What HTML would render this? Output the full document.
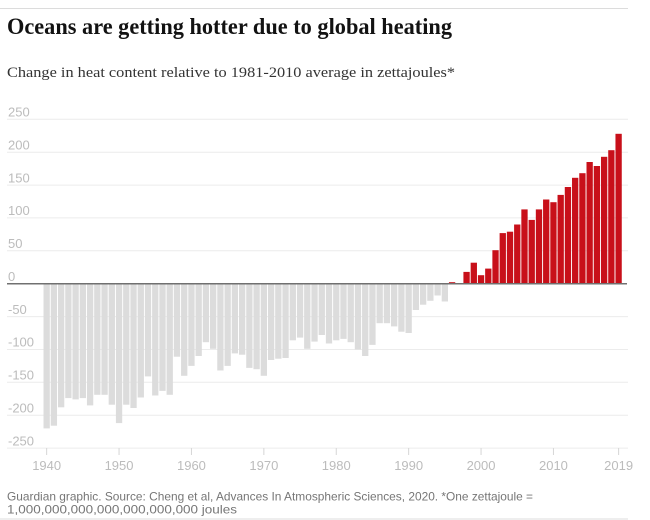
<!DOCTYPE html>
<html><head><meta charset="utf-8"><style>
html,body{margin:0;padding:0;background:#fff;}
svg{display:block;}
</style></head><body>
<svg width="650" height="520" viewBox="0 0 650 520" xmlns="http://www.w3.org/2000/svg">
<rect width="650" height="520" fill="#fff"/>
<line x1="0" y1="8.5" x2="628" y2="8.5" stroke="#dcdcdc" stroke-width="1"/>
<text x="7" y="34" font-family="Liberation Serif, serif" font-weight="bold" font-size="23" fill="#121212" textLength="445" lengthAdjust="spacingAndGlyphs">Oceans are getting hotter due to global heating</text>
<text x="7" y="77" font-family="Liberation Serif, serif" font-size="15" fill="#333" textLength="448" lengthAdjust="spacingAndGlyphs">Change in heat content relative to 1981-2010 average in zettajoules*</text>
<g stroke="#ececec" stroke-width="1">
<line x1="7" y1="119.3" x2="628" y2="119.3"/>
<line x1="7" y1="152.2" x2="628" y2="152.2"/>
<line x1="7" y1="185.1" x2="628" y2="185.1"/>
<line x1="7" y1="217.9" x2="628" y2="217.9"/>
<line x1="7" y1="250.8" x2="628" y2="250.8"/>
<line x1="7" y1="316.6" x2="628" y2="316.6"/>
<line x1="7" y1="349.5" x2="628" y2="349.5"/>
<line x1="7" y1="382.3" x2="628" y2="382.3"/>
<line x1="7" y1="415.2" x2="628" y2="415.2"/>
<line x1="7" y1="448.1" x2="628" y2="448.1"/>
</g>
<g font-family="Liberation Sans, sans-serif" font-size="13" fill="#bcbcbc">
<text x="8" y="116.5">250</text>
<text x="8" y="149.4">200</text>
<text x="8" y="182.3">150</text>
<text x="8" y="215.1">100</text>
<text x="8" y="248">50</text>
<text x="8" y="280.9">0</text>
<text x="8" y="313.8">-50</text>
<text x="8" y="346.7">-100</text>
<text x="8" y="379.5">-150</text>
<text x="8" y="412.4">-200</text>
<text x="8" y="445.3">-250</text>
</g>
<g fill="#dcdcdc">
<rect x="43.50" y="283.7" width="6.3" height="144.7"/>
<rect x="50.74" y="283.7" width="6.3" height="142.0"/>
<rect x="57.98" y="283.7" width="6.3" height="123.6"/>
<rect x="65.22" y="283.7" width="6.3" height="114.4"/>
<rect x="72.46" y="283.7" width="6.3" height="115.7"/>
<rect x="79.70" y="283.7" width="6.3" height="114.4"/>
<rect x="86.94" y="283.7" width="6.3" height="121.7"/>
<rect x="94.18" y="283.7" width="6.3" height="111.1"/>
<rect x="101.42" y="283.7" width="6.3" height="111.1"/>
<rect x="108.66" y="283.7" width="6.3" height="121.0"/>
<rect x="115.90" y="283.7" width="6.3" height="139.4"/>
<rect x="123.14" y="283.7" width="6.3" height="121.0"/>
<rect x="130.38" y="283.7" width="6.3" height="124.3"/>
<rect x="137.62" y="283.7" width="6.3" height="113.8"/>
<rect x="144.86" y="283.7" width="6.3" height="92.7"/>
<rect x="152.10" y="283.7" width="6.3" height="111.8"/>
<rect x="159.34" y="283.7" width="6.3" height="107.2"/>
<rect x="166.58" y="283.7" width="6.3" height="111.1"/>
<rect x="173.82" y="283.7" width="6.3" height="73.0"/>
<rect x="181.06" y="283.7" width="6.3" height="92.1"/>
<rect x="188.30" y="283.7" width="6.3" height="82.2"/>
<rect x="195.54" y="283.7" width="6.3" height="72.3"/>
<rect x="202.78" y="283.7" width="6.3" height="58.5"/>
<rect x="210.02" y="283.7" width="6.3" height="65.1"/>
<rect x="217.26" y="283.7" width="6.3" height="86.8"/>
<rect x="224.50" y="283.7" width="6.3" height="82.2"/>
<rect x="231.74" y="283.7" width="6.3" height="69.7"/>
<rect x="238.98" y="283.7" width="6.3" height="71.0"/>
<rect x="246.22" y="283.7" width="6.3" height="84.2"/>
<rect x="253.46" y="283.7" width="6.3" height="85.5"/>
<rect x="260.70" y="283.7" width="6.3" height="92.1"/>
<rect x="267.94" y="283.7" width="6.3" height="76.3"/>
<rect x="275.18" y="283.7" width="6.3" height="75.0"/>
<rect x="282.42" y="283.7" width="6.3" height="74.3"/>
<rect x="289.66" y="283.7" width="6.3" height="56.6"/>
<rect x="296.90" y="283.7" width="6.3" height="53.9"/>
<rect x="304.14" y="283.7" width="6.3" height="65.1"/>
<rect x="311.38" y="283.7" width="6.3" height="57.9"/>
<rect x="318.62" y="283.7" width="6.3" height="51.3"/>
<rect x="325.86" y="283.7" width="6.3" height="59.8"/>
<rect x="333.10" y="283.7" width="6.3" height="56.6"/>
<rect x="340.34" y="283.7" width="6.3" height="55.2"/>
<rect x="347.58" y="283.7" width="6.3" height="58.5"/>
<rect x="354.82" y="283.7" width="6.3" height="65.8"/>
<rect x="362.06" y="283.7" width="6.3" height="72.3"/>
<rect x="369.30" y="283.7" width="6.3" height="61.2"/>
<rect x="376.54" y="283.7" width="6.3" height="39.5"/>
<rect x="383.78" y="283.7" width="6.3" height="39.5"/>
<rect x="391.02" y="283.7" width="6.3" height="42.7"/>
<rect x="398.26" y="283.7" width="6.3" height="48.0"/>
<rect x="405.50" y="283.7" width="6.3" height="49.3"/>
<rect x="412.74" y="283.7" width="6.3" height="26.3"/>
<rect x="419.98" y="283.7" width="6.3" height="21.0"/>
<rect x="427.22" y="283.7" width="6.3" height="17.1"/>
<rect x="434.46" y="283.7" width="6.3" height="11.8"/>
<rect x="441.70" y="283.7" width="6.3" height="17.8"/>
</g>
<g fill="#c8101a">
<rect x="448.94" y="282.2" width="6.3" height="1.5"/>
<rect x="463.42" y="271.9" width="6.3" height="11.8"/>
<rect x="470.66" y="262.7" width="6.3" height="21.0"/>
<rect x="477.90" y="275.2" width="6.3" height="8.5"/>
<rect x="485.14" y="268.6" width="6.3" height="15.1"/>
<rect x="492.38" y="250.2" width="6.3" height="33.5"/>
<rect x="499.62" y="233.1" width="6.3" height="50.6"/>
<rect x="506.86" y="231.7" width="6.3" height="52.0"/>
<rect x="514.10" y="224.5" width="6.3" height="59.2"/>
<rect x="521.34" y="209.4" width="6.3" height="74.3"/>
<rect x="528.58" y="219.9" width="6.3" height="63.8"/>
<rect x="535.82" y="209.4" width="6.3" height="74.3"/>
<rect x="543.06" y="199.5" width="6.3" height="84.2"/>
<rect x="550.30" y="202.2" width="6.3" height="81.5"/>
<rect x="557.54" y="194.9" width="6.3" height="88.8"/>
<rect x="564.78" y="187.0" width="6.3" height="96.7"/>
<rect x="572.02" y="177.8" width="6.3" height="105.9"/>
<rect x="579.26" y="173.2" width="6.3" height="110.5"/>
<rect x="586.50" y="162.0" width="6.3" height="121.7"/>
<rect x="593.74" y="166.0" width="6.3" height="117.7"/>
<rect x="600.98" y="156.8" width="6.3" height="126.9"/>
<rect x="608.22" y="150.2" width="6.3" height="133.5"/>
<rect x="615.46" y="133.8" width="6.3" height="149.9"/>
</g>
<line x1="7" y1="283.7" x2="627" y2="283.7" stroke="#707070" stroke-width="1.5"/>
<g stroke="#d6d6d6" stroke-width="1">
<line x1="46.65" y1="448" x2="46.65" y2="455"/>
<line x1="119.05" y1="448" x2="119.05" y2="455"/>
<line x1="191.45" y1="448" x2="191.45" y2="455"/>
<line x1="263.85" y1="448" x2="263.85" y2="455"/>
<line x1="336.25" y1="448" x2="336.25" y2="455"/>
<line x1="408.65" y1="448" x2="408.65" y2="455"/>
<line x1="481.05" y1="448" x2="481.05" y2="455"/>
<line x1="553.45" y1="448" x2="553.45" y2="455"/>
<line x1="618.61" y1="448" x2="618.61" y2="455"/>
</g>
<g font-family="Liberation Sans, sans-serif" font-size="13" fill="#bcbcbc" text-anchor="middle">
<text x="46.65" y="470">1940</text>
<text x="119.05" y="470">1950</text>
<text x="191.45" y="470">1960</text>
<text x="263.85" y="470">1970</text>
<text x="336.25" y="470">1980</text>
<text x="408.65" y="470">1990</text>
<text x="481.05" y="470">2000</text>
<text x="553.45" y="470">2010</text>
<text x="618.61" y="470">2019</text>
</g>
<g font-family="Liberation Sans, sans-serif" font-size="12" fill="#767676">
<text x="7" y="500.5" textLength="526" lengthAdjust="spacingAndGlyphs">Guardian graphic. Source: Cheng et al, Advances In Atmospheric Sciences, 2020. *One zettajoule =</text>
<text x="7" y="513.5" textLength="230" lengthAdjust="spacingAndGlyphs">1,000,000,000,000,000,000,000 joules</text>
</g>
<line x1="0" y1="519" x2="628" y2="519" stroke="#dcdcdc" stroke-width="1"/>
</svg>
</body></html>
